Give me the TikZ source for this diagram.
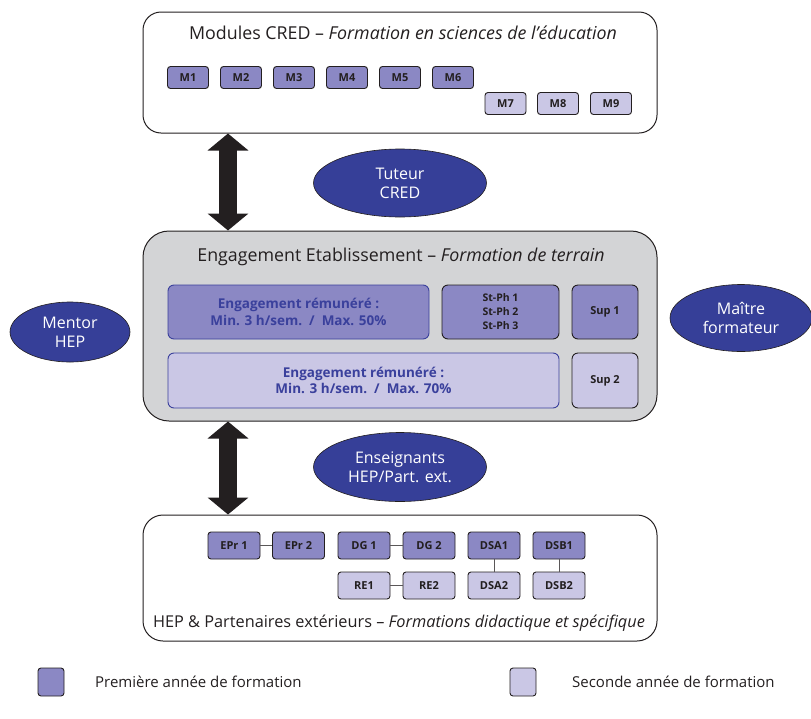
\documentclass[tikz,border=0pt]{standalone}
\usepackage{fontspec}
\setmainfont{Open Sans}
\usetikzlibrary{arrows.meta,positioning,shapes.geometric}
\definecolor{yrone}{HTML}{8B88C4}
\definecolor{yrtwo}{HTML}{CAC7E5}
\definecolor{roleblue}{HTML}{363F98}
\definecolor{engblue}{HTML}{3A409C}
\definecolor{fieldgray}{HTML}{D3D4D6}
\definecolor{ink}{HTML}{231F20}

\begin{document}
\begin{tikzpicture}[x=1pt, y=-1pt,
    every node/.style={inner sep=0pt, text=ink},
    zone/.style={draw=ink, line width=1pt, minimum width=514pt},
    modbox/.style={draw=ink, line width=0.9pt, rounded corners=3pt, font=\fontsize{11}{13}\selectfont\bfseries},
    yearone/.style={modbox, fill=yrone},
    yeartwo/.style={modbox, fill=yrtwo},
    engbox/.style={draw=engblue, line width=0.9pt, rounded corners=6pt, text=engblue, align=center,
      font=\fontsize{13.5}{16.5}\selectfont\bfseries},
    role/.style={ellipse, draw=ink, line width=0.6pt, fill=roleblue, text=white, align=center,
      font=\fontsize{16}{19}\selectfont},
    heading/.style={font=\fontsize{17.8}{21}\selectfont},
    duo/.style={draw=ink, line width=18pt, {Triangle[length=17pt,width=40pt]}-{Triangle[length=17pt,width=40pt]}},
    link/.style={draw=ink!75, line width=1pt}]
  \useasboundingbox (0,0) rectangle (811,718);
  \node[zone, rounded corners=18pt, minimum height=121pt] (cred) at (400,72.5) {};
  \node[heading] (credtitle) at (403,33) {Modules CRED – \textit{Formation en sciences de l’éducation}};
  \foreach \i/\x in {1/188,2/241,3/294,4/347,5/400,6/453}
    \node[yearone, minimum width=41pt, minimum height=22pt] (m\i) at (\x,77.5) {M\i};
  \foreach \i/\x in {7/505.5,8/558,9/611}
    \node[yeartwo, minimum width=41pt, minimum height=22pt] (m\i) at (\x,103.5) {M\i};

  \node[zone, rounded corners=26pt, fill=fieldgray, minimum height=190pt] (etab) at (400,326) {};
  \node[heading] (etabtitle) at (401,257) {Engagement Etablissement – \textit{Formation de terrain}};
  \node[engbox, fill=yrone, minimum width=261pt, minimum height=54pt] (eng1) at (298.5,312)
    {Engagement rémunéré :\\Min. 3 h/sem.\ \ /\ \ Max. 50\%};
  \node[yearone, rounded corners=6pt, align=center, font=\fontsize{10.5}{14}\selectfont\bfseries,
    minimum width=117pt, minimum height=54pt] (stph) at (500.5,312) {St-Ph 1\\St-Ph 2\\St-Ph 3};
  \node[yearone, rounded corners=6pt, minimum width=66pt, minimum height=54pt] (sup1) at (605,312) {Sup 1};
  \node[engbox, fill=yrtwo, minimum width=391pt, minimum height=55pt] (eng2) at (363.5,380.5)
    {Engagement rémunéré :\\Min. 3 h/sem.\ \ /\ \ Max. 70\%};
  \node[yeartwo, rounded corners=6pt, minimum width=66pt, minimum height=55pt] (sup2) at (605,380.5) {Sup 2};

  \node[zone, rounded corners=20pt, minimum height=126pt] (hep) at (400,578) {};
  \node[heading, font=\fontsize{16.3}{19}\selectfont] (heptitle) at (399,623)
    {HEP \& Partenaires extérieurs – \textit{Formations didactique et spécifique}};
  \foreach \n/\t/\x in {epra/EPr 1/234,eprb/EPr 2/298.5,dga/DG 1/364,dgb/DG 2/429,dsaa/DSA1/494,dsba/DSB1/559}
    \node[yearone, minimum width=52pt, minimum height=27pt] (\n) at (\x,545.5) {\t};
  \foreach \n/\t/\x in {rea/RE1/364,reb/RE2/429,dsab/DSA2/494,dsbb/DSB2/559}
    \node[yeartwo, minimum width=52pt, minimum height=27pt] (\n) at (\x,585.5) {\t};
  \draw[link] (epra) -- (eprb);
  \draw[link] (dga) -- (dgb);
  \draw[link] (rea) -- (reb);
  \draw[link] (dsaa) -- (dsab);
  \draw[link] (dsba) -- (dsbb);

  \node[role, minimum width=173pt, minimum height=68pt] (tuteur) at (400,183) {Tuteur\\CRED};
  \node[role, minimum width=173pt, minimum height=69pt] (ens) at (400,467) {Enseignants\\HEP/Part. ext.};
  \node[role, minimum width=120pt, minimum height=60pt] (mentor) at (70,332) {Mentor\\HEP};
  \node[role, minimum width=142pt, minimum height=67pt] (maitre) at (741,318) {Maître\\formateur};

  \coordinate (ax) at (228,0);
  \draw[duo] (cred.south -| ax) -- (etab.north -| ax);
  \draw[duo] (etab.south -| ax) -- (hep.north -| ax);

  \node[yearone, minimum width=26pt, minimum height=28pt] (lgone) at (51,682) {};
  \node[anchor=west, font=\fontsize{15}{18}\selectfont] (lgonetext) at (95,682) {Première année de formation};
  \node[yeartwo, minimum width=26pt, minimum height=28pt] (lgtwo) at (523,682) {};
  \node[anchor=west, font=\fontsize{15}{18}\selectfont] (lgtwotext) at (572,682) {Seconde année de formation};
\end{tikzpicture}
\end{document}
